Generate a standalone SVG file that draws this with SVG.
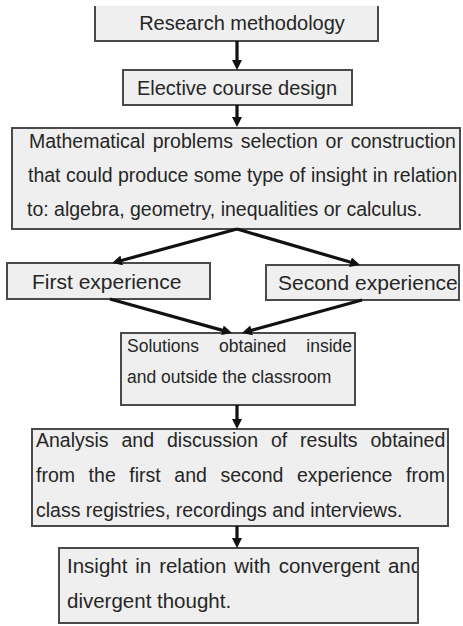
<svg xmlns="http://www.w3.org/2000/svg" width="463" height="626" viewBox="0 0 463 626">
<style>
  .box { fill: #efefef; stroke: #4a4a4a; stroke-width: 2; }
  .t { font-family: "Liberation Sans", Arial, sans-serif; fill: #262626; }
  .conn { stroke: #111; stroke-width: 3.2; fill: none; marker-end: url(#ah); }
</style>
<defs>
  <marker id="ah" markerUnits="userSpaceOnUse" markerWidth="10" markerHeight="10" refX="3" refY="5" orient="auto">
    <path d="M0,0 L10,5 L0,10 z" fill="#111"/>
  </marker>
  <clipPath id="c8"><rect x="59" y="548" width="359" height="75"/></clipPath>
</defs>
<rect width="463" height="626" fill="#ffffff"/>

<g id="n1">
  <rect x="95" y="6" width="283" height="35" fill="#efefef"/>
  <path d="M95,6 V41 H378 V6" fill="none" stroke="#4a4a4a" stroke-width="2"/>
  <text class="t" x="242" y="30" font-size="20" text-anchor="middle">Research methodology</text>
</g>

<g id="n2">
  <rect class="box" x="123" y="70" width="229" height="35"/>
  <text class="t" x="237" y="95" font-size="20" text-anchor="middle">Elective course design</text>
</g>

<g id="n3">
  <rect class="box" x="12" y="128" width="448" height="101"/>
  <text class="t" x="29" y="148" font-size="19.5" word-spacing="2.4">Mathematical problems selection or construction</text>
  <text class="t" x="28" y="182" font-size="19.5">that could produce some type of insight in relation</text>
  <text class="t" x="27" y="216" font-size="19.5">to: algebra, geometry, inequalities or calculus.</text>
</g>

<g id="n4">
  <rect class="box" x="7" y="263" width="203" height="36"/>
  <text class="t" x="32" y="289" font-size="21">First experience</text>
</g>

<g id="n5">
  <rect class="box" x="266" y="265" width="193" height="35"/>
  <text class="t" x="278" y="290" font-size="21">Second experience</text>
</g>

<g id="n6">
  <rect class="box" x="121" y="333" width="234" height="72"/>
  <text class="t" x="127" y="352" font-size="17.5" word-spacing="15.2">Solutions obtained inside</text>
  <text class="t" x="127" y="383" font-size="17.5">and outside the classroom</text>
</g>

<g id="n7">
  <rect class="box" x="32" y="429" width="416" height="97"/>
  <text class="t" x="36" y="447" font-size="19.5" word-spacing="7.5">Analysis and discussion of results obtained</text>
  <text class="t" x="36" y="482" font-size="19.5" word-spacing="8.2">from the first and second experience from</text>
  <text class="t" x="36" y="517" font-size="19.5">class registries, recordings and interviews.</text>
</g>

<g id="n8">
  <rect class="box" x="59" y="548" width="359" height="75"/>
  <text class="t" x="67" y="573" font-size="20.5" word-spacing="2.2" clip-path="url(#c8)">Insight in relation with convergent and</text>
  <text class="t" x="67" y="608" font-size="20.5">divergent thought.</text>
  <rect x="59" y="548" width="359" height="75" fill="none" stroke="#4a4a4a" stroke-width="2"/>
</g>

<g id="connectors">
  <line class="conn" x1="237" y1="41" x2="237" y2="63"/>
  <line class="conn" x1="237" y1="105" x2="237" y2="120"/>
  <line class="conn" x1="237" y1="229" x2="118.8" y2="261.2"/>
  <line class="conn" x1="237" y1="229" x2="353.3" y2="263"/>
  <line class="conn" x1="110" y1="299" x2="225.3" y2="331.1"/>
  <line class="conn" x1="362" y1="300" x2="248.7" y2="331.1"/>
  <line class="conn" x1="237" y1="405" x2="237" y2="422"/>
  <line class="conn" x1="237" y1="526" x2="237" y2="541"/>
</g>
</svg>
